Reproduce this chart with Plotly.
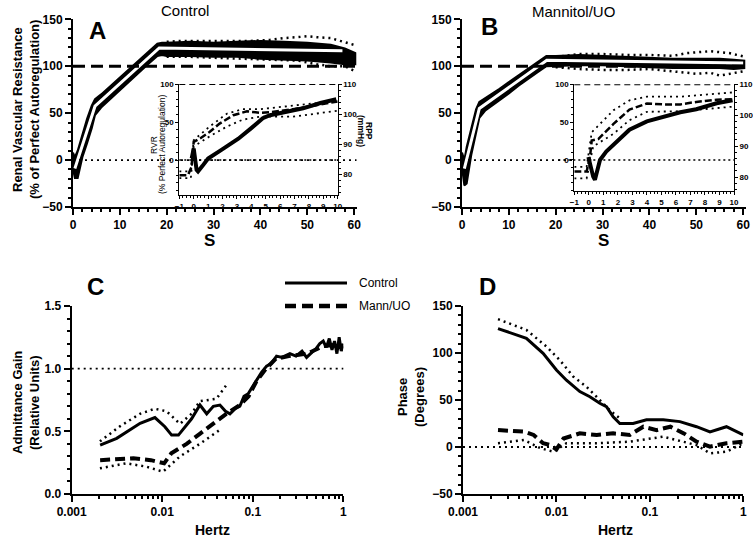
import plotly.graph_objects as go

W, H = 753, 541

# ---------------- Panel A (Control) : main ----------------
a_t = [0, 0.4, 1.0, 2, 3, 4, 4.7, 6, 8, 10, 12, 14, 16, 18, 19, 20, 25, 30, 35, 40, 45, 50, 55, 58, 60.3]
a_hi = [8, 3, 10, 28, 44, 58, 65, 70, 79, 88, 97, 106, 115, 124, 125, 125, 126, 125, 126, 127, 126, 125, 123, 119, 114]
a_lo = [-10, -19, -19, 3, 18, 34, 48, 56, 66, 75, 84, 93, 102, 111, 112, 111, 111, 110, 110, 108, 107, 106, 104, 102, 102]
a_fit_t = [0.4, 4.7, 18.4, 57.5]
a_fit_y = [-9, 57.4, 119.5, 116.5]
a_sdu_t = [20, 23, 26, 30, 34, 38, 42, 45, 48, 50, 52, 55, 57, 59, 60.5]
a_sdu_y = [126, 127, 127, 127, 127, 127, 128, 130, 131, 132, 131, 130, 127, 124, 122]
a_sdl_t = [20, 25, 30, 35, 40, 45, 48, 52, 55, 58, 60.5]
a_sdl_y = [110, 110, 109, 108, 107, 106, 106, 102, 100, 100, 94]

# ---------------- Panel A inset ----------------
ai_rvr_t = [-0.14, 0, 0.2, 0.3, 0.6, 1, 1.9, 3.1, 4, 4.8, 5.3, 6.5, 7.6, 8.8, 9.9]
ai_rvr = [2, 15, -13, -15, -8, 2, 13, 28, 42, 55, 59, 64, 68, 75, 80]
ai_rpp_t = [-1, -0.4, -0.15, 0, 0.43, 1.1, 1.8, 2.75, 3.7, 4.6, 5.3, 6.9, 8.5, 10]
ai_rpp = [79.6, 79.6, 82.4, 90.7, 91.8, 94.0, 96.8, 99.6, 100.9, 100.4, 100.6, 101.6, 102.9, 104.2]
ai_sd_t = [-1, -0.2, 0, 1.1, 2.3, 3.4, 4.6, 6.9, 10]
ai_rpp_hi = [80.9, 80.9, 91.3, 95.8, 100.1, 101.6, 101.6, 102.7, 104.4]
ai_rpp_lo = [78.6, 78.6, 89.2, 92.5, 95.8, 98.1, 99.1, 99.1, 101.1]

# ---------------- Panel B (Mannitol/UO) : main ----------------
b_t = [0, 0.5, 1, 2, 3, 3.7, 5, 8, 10, 12, 14, 16, 18, 19, 20, 25, 30, 35, 40, 45, 50, 55, 58, 60.3]
b_hi = [8, 0, 14, 35, 54, 62, 66, 76, 83, 90, 97, 104, 111, 111, 111, 112, 111, 110, 109, 108, 108, 108, 107, 106]
b_lo = [-8, -27, -25, 6, 28, 45, 53, 64, 71, 79, 86, 93, 100, 100, 100, 101, 101, 100, 99, 98, 98, 98, 97, 98]
b_fit_t = [0.5, 3.7, 18.1, 60]
b_fit_y = [-9, 55, 106.4, 103.5]
b_sd_t = [20, 25, 30, 35, 40, 45, 48, 50, 53, 55, 57, 60.5]
b_sdu_y = [110, 113, 113, 112, 112, 111, 114, 115, 116, 115, 114, 110]
b_sdl_y = [99, 97, 96, 96, 97, 95, 93, 92, 93, 90, 92, 95]

# ---------------- Panel B inset ----------------
bi_rvr_t = [-0.03, 0.08, 0.3, 0.42, 0.65, 0.77, 1.2, 2.15, 2.8, 4, 5.1, 6.3, 7.4, 8.8, 9.9]
bi_rvr = [4, -7, -22, -26, -11, 0, 11, 29, 40, 51, 57, 63, 67, 75, 79]
bi_rpp_t = [-1, -0.15, 0.08, 0.2, 0.65, 1.7, 2.8, 4, 5.1, 6.3, 7.4, 8.8, 10]
bi_rpp = [81.8, 81.8, 86.5, 91.8, 92.3, 97.2, 101.8, 103.8, 103.5, 103.5, 104.3, 105.0, 105.2]
bi_sdu_t = [-1, -0.15, 0.2, 1.7, 2.8, 4, 6.3, 10]
bi_rpp_hi = [83.3, 83.3, 94.5, 101.6, 104.8, 106.0, 106.0, 107.4]
bi_sdl_t = [-1, -0.15, 0.3, 1.7, 2.8, 4, 6.3, 10]
bi_rpp_lo = [79.6, 79.6, 89.9, 94.0, 98.4, 101.1, 101.3, 102.8]

# ---------------- Panel C : admittance gain ----------------
c_ctl_f = [0.00206, 0.00314, 0.0057, 0.0083, 0.0107, 0.0127, 0.0151, 0.0211, 0.0261, 0.031, 0.0367,
           0.0434, 0.05, 0.056, 0.064, 0.072, 0.08, 0.089, 0.1, 0.11, 0.125, 0.142, 0.16, 0.183, 0.21,
           0.257, 0.3, 0.35, 0.393, 0.45, 0.5, 0.55, 0.6, 0.65, 0.7, 0.75, 0.8, 0.85, 0.9, 0.95, 1.0]
c_ctl_g = [0.39, 0.444, 0.564, 0.61, 0.537, 0.47, 0.47, 0.60, 0.71, 0.64, 0.70,
           0.71, 0.66, 0.64, 0.68, 0.70, 0.78, 0.80, 0.86, 0.91, 0.97, 1.02, 1.04, 1.10, 1.09,
           1.12, 1.10, 1.14, 1.09, 1.13, 1.16, 1.20, 1.22, 1.17, 1.24, 1.15, 1.22, 1.12, 1.25, 1.14, 1.20]
c_ctl_sd_f = [0.00205, 0.00341, 0.00568, 0.0083, 0.01116, 0.0157, 0.0211, 0.026, 0.0397, 0.0512]
c_ctl_sd_g = [0.42, 0.54, 0.64, 0.68, 0.66, 0.56, 0.64, 0.74, 0.76, 0.87]
c_mann_f = [0.00206, 0.0048, 0.0075, 0.009, 0.0105, 0.0126, 0.0186, 0.026, 0.0367, 0.051, 0.072,
            0.09, 0.11, 0.14, 0.18, 0.25, 0.4, 0.6, 0.8, 1.0]
c_mann_g = [0.27, 0.285, 0.27, 0.26, 0.245, 0.325, 0.40, 0.48, 0.56, 0.64, 0.71,
            0.78, 0.90, 1.00, 1.08, 1.10, 1.12, 1.18, 1.19, 1.16]
c_mann_sd_f = [0.00205, 0.0040, 0.0067, 0.0102, 0.0157, 0.026, 0.043]
c_mann_sd_g = [0.205, 0.245, 0.218, 0.178, 0.30, 0.40, 0.51]

# ---------------- Panel D : phase ----------------
d_ctl_f = [0.00237, 0.00477, 0.0072, 0.01, 0.0128, 0.0178, 0.0228, 0.0291, 0.0343, 0.0405, 0.0477,
           0.0662, 0.092, 0.139, 0.2096, 0.316, 0.44, 0.66, 1.0]
d_ctl_p = [126, 115.6, 99.6, 82, 71, 59, 53.5, 46.5, 43, 32, 25, 25, 29, 29, 27, 21.6, 16, 21.6, 12.8]
d_ctl_sd_f = [0.00237, 0.00477, 0.0078, 0.01086, 0.0151, 0.021, 0.0268, 0.0373, 0.0477]
d_ctl_sd_p = [136, 124.5, 107, 92.5, 75, 64, 53.5, 39, 30.5]
d_mann_f = [0.00237, 0.0045, 0.0057, 0.0072, 0.0086, 0.01, 0.0119, 0.0178, 0.027, 0.0405, 0.061,
            0.085, 0.118, 0.166, 0.231, 0.316, 0.44, 0.66, 1.0]
d_mann_p = [18, 16.3, 12.8, 4, 2, -2.5, 9, 14.5, 12.8, 14.5, 12.8, 21.6, 18, 21.6, 14.5, 5.7, 0.4, 4, 5.7]
d_mann_sd_f = [0.00237, 0.0045, 0.0068, 0.0093, 0.0128, 0.027, 0.061, 0.139, 0.316, 0.44, 0.66, 1.0]
d_mann_sd_p = [4, 7.4, -1.4, -5, 4, 4, 5.7, 11, 2, -6.7, -5, 4]

# =====================================================================
FONT = "Liberation Sans"
BLK = "black"


def dx(a, b):
    return [a / W, b / W]


def dy(top, bottom):
    return [1 - bottom / H, 1 - top / H]


fig = go.Figure()


def band(t, hi, lo, xa, ya):
    fig.add_trace(go.Scatter(x=list(t) + list(t)[::-1], y=list(hi) + list(lo)[::-1],
                             fill="toself", fillcolor=BLK, mode="lines",
                             line=dict(color=BLK, width=2), xaxis=xa, yaxis=ya,
                             hoverinfo="skip", showlegend=False))


def line(x, y, xa, ya, width=2, dash="solid", color=BLK):
    fig.add_trace(go.Scatter(x=x, y=y, mode="lines", line=dict(color=color, width=width, dash=dash),
                             xaxis=xa, yaxis=ya, showlegend=False, hoverinfo="skip"))


DOT = "2px,4px"

# Panel A
band(a_t, a_hi, a_lo, "x", "y")
line(a_fit_t, a_fit_y, "x", "y", width=3, color="white")
line(a_sdu_t, a_sdu_y, "x", "y", width=2.5, dash=DOT)
line(a_sdl_t, a_sdl_y, "x", "y", width=2.5, dash=DOT)

# Panel A inset
line(ai_sd_t, ai_rpp_hi, "x2", "y3", width=1.8, dash=DOT)
line(ai_sd_t, ai_rpp_lo, "x2", "y3", width=1.8, dash=DOT)
line(ai_rpp_t, ai_rpp, "x2", "y3", width=2.5, dash="7px,3px")
line(ai_rvr_t, ai_rvr, "x2", "y2", width=4)

# Panel B
band(b_t, b_hi, b_lo, "x3", "y4")
line(b_fit_t, b_fit_y, "x3", "y4", width=3, color="white")
line(b_sd_t, b_sdu_y, "x3", "y4", width=2.5, dash=DOT)
line(b_sd_t, b_sdl_y, "x3", "y4", width=2.5, dash=DOT)

# Panel B inset
line(bi_sdu_t, bi_rpp_hi, "x4", "y6", width=1.8, dash=DOT)
line(bi_sdl_t, bi_rpp_lo, "x4", "y6", width=1.8, dash=DOT)
line(bi_rpp_t, bi_rpp, "x4", "y6", width=2.5, dash="7px,3px")
line(bi_rvr_t, bi_rvr, "x4", "y5", width=4)

# Panel C
line(c_ctl_sd_f, c_ctl_sd_g, "x5", "y7", width=2.5, dash=DOT)
line(c_mann_sd_f, c_mann_sd_g, "x5", "y7", width=2.5, dash=DOT)
line(c_mann_f, c_mann_g, "x5", "y7", width=4, dash="10px,5px")
line(c_ctl_f, c_ctl_g, "x5", "y7", width=3)

# Panel D
line(d_ctl_sd_f, d_ctl_sd_p, "x6", "y8", width=2.5, dash=DOT)
line(d_mann_sd_f, d_mann_sd_p, "x6", "y8", width=2.5, dash=DOT)
line(d_mann_f, d_mann_p, "x6", "y8", width=4, dash="10px,5px")
line(d_ctl_f, d_ctl_p, "x6", "y8", width=3)

TF = dict(family=FONT, size=12, color=BLK, weight="bold")
TFI = dict(family=FONT, size=8, color=BLK, weight="bold")


def ax(domain, rng, dtick=None, minor_dtick=None, tf=TF, ticklen=6, lw=2, **kw):
    d = dict(domain=domain, range=rng, showline=True, linecolor=BLK, linewidth=lw,
             ticks="outside", ticklen=ticklen, tickwidth=lw, tickcolor=BLK, automargin=False,
             showgrid=False, zeroline=False, tickfont=tf, fixedrange=True)
    if dtick is not None:
        d["dtick"] = dtick
    if minor_dtick is not None:
        d["minor"] = dict(ticks="outside", ticklen=max(2, ticklen // 2), tickwidth=max(1, lw - 0.5),
                          tickcolor=BLK, dtick=minor_dtick, showgrid=False)
    d.update(kw)
    return d


log_minor = [k * 10 ** e for e in (-3, -2, -1) for k in range(2, 10)]
log_axis = dict(type="log", tickvals=[0.001, 0.01, 0.1, 1], ticktext=["0.001", "0.01", "0.1", "1"],
                minor=dict(ticks="outside", ticklen=3, tickwidth=1.5, tickcolor=BLK,
                           tickvals=log_minor, showgrid=False))

fig.update_layout(
    width=W, height=H, margin=dict(l=0, r=0, t=0, b=0, autoexpand=False),
    paper_bgcolor="white", plot_bgcolor="rgba(0,0,0,0)", showlegend=False,
    xaxis=ax(dx(73, 356.5), [0, 60.5], 10, 2, anchor="y"),
    yaxis=ax(dy(19.3, 207), [-50, 150], 50, 10, anchor="x"),
    xaxis2=ax(dx(179.3, 337.7), [-1, 10], 1, 0.25, tf=TFI, ticklen=3, lw=1, anchor="y2"),
    yaxis2=ax(dy(84, 195), [-46, 100], None, 10, tf=TFI, ticklen=3, lw=1, anchor="x2",
              tickvals=[0, 50, 100]),
    yaxis3=ax(dy(84, 195), [73, 110], 10, 2, tf=TFI, ticklen=3, lw=1, anchor="x2",
              overlaying="y2", side="right"),
    xaxis3=ax(dx(462, 745.5), [0, 60.5], 10, 2, anchor="y4"),
    yaxis4=ax(dy(19.3, 207), [-50, 150], 50, 10, anchor="x3"),
    xaxis4=ax(dx(574.3, 734), [-1, 10], 1, 0.25, tf=TFI, ticklen=3, lw=1, anchor="y5"),
    yaxis5=ax(dy(84.3, 191), [-41, 100], None, 10, tf=TFI, ticklen=3, lw=1, anchor="x4",
              tickvals=[0, 50, 100]),
    yaxis6=ax(dy(84.3, 191), [75.5, 110], 10, 2, tf=TFI, ticklen=3, lw=1, anchor="x4",
              overlaying="y5", side="right"),
    xaxis5=ax(dx(71.7, 343.3), [-3, 0], anchor="y7", **log_axis),
    yaxis7=ax(dy(306, 494), [0, 1.5], 0.5, 0.1, anchor="x5", tickformat=".1f"),
    xaxis6=ax(dx(463, 743.3), [-3, 0], anchor="y8", **log_axis),
    yaxis8=ax(dy(306, 494), [-50, 150], 50, 10, anchor="x6"),
)

shapes = []


def hline(xref, yref, y, dash, width, x0=0, x1=1):
    shapes.append(dict(type="line", xref=xref + " domain", yref=yref, x0=x0, x1=x1, y0=y, y1=y,
                       line=dict(color=BLK, width=width, dash=dash)))


hline("x", "y", 100, "12px,6px", 3)
hline("x", "y", 0, DOT, 1.8)
hline("x2", "y2", 100, "6px,4px", 1.8)
hline("x2", "y2", 0, "2px,3px", 1.5)
hline("x3", "y4", 100, "12px,6px", 3)
hline("x3", "y4", 0, DOT, 1.8, x1=0.4)
hline("x4", "y5", 100, "6px,4px", 1.8)
hline("x4", "y5", 0, "2px,3px", 1.5, x0=-0.1)
hline("x5", "y7", 1.0, DOT, 1.8)
hline("x6", "y8", 0, DOT, 1.8)

# legend samples (paper coords)
shapes.append(dict(type="line", xref="paper", yref="paper", x0=285 / W, x1=347 / W,
                   y0=1 - 283 / H, y1=1 - 283 / H, line=dict(color=BLK, width=3)))
shapes.append(dict(type="line", xref="paper", yref="paper", x0=285 / W, x1=347 / W,
                   y0=1 - 306 / H, y1=1 - 306 / H, line=dict(color=BLK, width=4.5, dash="11px,6px")))
fig.update_layout(shapes=shapes)

ann = []


def text(x, y, s, size=12, bold=False, angle=0, xanchor="center", family=FONT):
    ann.append(dict(xref="paper", yref="paper", x=x / W, y=1 - y / H, text=s, showarrow=False,
                    textangle=angle, xanchor=xanchor, yanchor="middle",
                    font=dict(family=family, size=size, color=BLK, weight="bold" if bold else "normal")))


text(185, 10, "Control", 15)
text(573, 12, "Mannitol/UO", 15)
text(97, 30, "A", 24, True)
text(489, 27, "B", 24, True)
text(95, 286, "C", 24, True)
text(487, 286, "D", 24, True)
text(17, 110, "Renal Vascular Resistance", 13, True, -90)
text(34, 110, "(% of Perfect Autoregulation)", 13, True, -90)
text(210, 240, "S", 17, True)
text(603, 240, "S", 17, True)
text(154, 145, "RVR", 8.5, False, -90)
text(162, 145, "(% Perfect Autoregulation)", 8.5, False, -90)
text(369, 131, "RPP", 8.5, True, 90)
text(361, 131, "(mmHg)", 8.5, True, 90)
text(17, 403, "Admittance Gain", 13, True, -90)
text(34, 403, "(Relative Units)", 13, True, -90)
text(402, 397, "Phase", 13, True, -90)
text(419, 397, "(Degrees)", 13, True, -90)
text(212, 530, "Hertz", 14, True)
text(615, 530, "Hertz", 14, True)
text(357, 283, "Control", 12, False, 0, "left")
text(357, 306, "Mann/UO", 12, False, 0, "left")
fig.update_layout(annotations=ann)

fig.write_html("out.html", config={"displayModeBar": False},
               post_script="document.body.style.margin='0';document.body.style.overflow='hidden';")
